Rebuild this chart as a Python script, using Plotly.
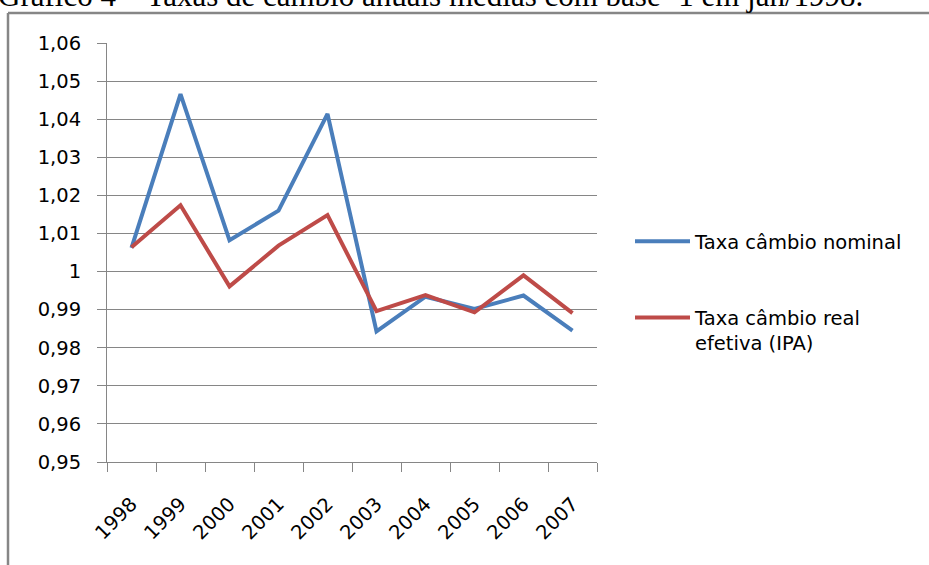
import plotly.graph_objects as go

years = ["1998", "1999", "2000", "2001", "2002", "2003", "2004", "2005", "2006", "2007"]
nominal = [1.0062, 1.0466, 1.0082, 1.0160, 1.0414, 0.9843, 0.9934, 0.9902, 0.9937, 0.9845]
real_ipa = [1.0064, 1.0174, 0.9961, 1.0068, 1.0148, 0.9896, 0.9938, 0.9893, 0.9990, 0.9891]
y_ticks = [0.95, 0.96, 0.97, 0.98, 0.99, 1.00, 1.01, 1.02, 1.03, 1.04, 1.05, 1.06]
y_ticktext = ["0,95", "0,96", "0,97", "0,98", "0,99", "1", "1,01", "1,02", "1,03", "1,04", "1,05", "1,06"]
series_names = ["Taxa câmbio nominal", "Taxa câmbio real<br>efetiva (IPA)"]
title_text = "Gráfico 4 – Taxas de câmbio anuais médias com base=1 em jan/1998."

W, H = 929, 565
L, R, T, B = 107, 332, 43, 103
pw, ph = W - L - R, H - T - B

def px_x(p):
    return (p - L) / pw

def px_y(p):
    return (H - B - p) / ph

GRID = "#868686"
FONT = "DejaVu Sans"

fig = go.Figure()
fig.add_trace(go.Scatter(x=years, y=nominal, name=series_names[0], mode="lines",
                         line=dict(color="#4A7EBB", width=4), legendgroup="a"))
fig.add_trace(go.Scatter(x=years, y=real_ipa, name=series_names[1], mode="lines",
                         line=dict(color="#BE4B48", width=4), legendgroup="b"))

fig.update_layout(
    width=W, height=H,
    margin=dict(l=L, r=R, t=T, b=B, pad=0),
    paper_bgcolor="white", plot_bgcolor="white",
    font=dict(family=FONT, size=19, color="#000000"),
    showlegend=True,
    legend=dict(x=px_x(630), y=px_y(222), xanchor="left", yanchor="top",
                font=dict(family=FONT, size=19.5, color="#000000"),
                tracegroupgap=48, valign="top", itemwidth=55,
                bgcolor="rgba(0,0,0,0)"),
    xaxis=dict(type="category", range=[-0.5, 9.5], tickson="boundaries",
               ticks="outside", ticklen=9, tickcolor=GRID, tickwidth=1,
               showline=True, linecolor=GRID, linewidth=1, showgrid=False,
               tickangle=-45, ticklabelstandoff=22, tickfont=dict(size=19.5),
               fixedrange=True),
    yaxis=dict(range=[0.95, 1.06], tickvals=y_ticks, ticktext=y_ticktext,
               showgrid=True, gridcolor=GRID, gridwidth=1,
               ticks="outside", ticklen=9, tickcolor=GRID, tickwidth=1,
               showline=True, linecolor=GRID, linewidth=1, zeroline=False,
               ticklabelstandoff=12, tickfont=dict(size=19.5)),
)

# Chart frame border (top and left edges visible)
fig.add_shape(type="line", xref="paper", yref="paper",
              x0=px_x(8), x1=px_x(935), y0=px_y(13), y1=px_y(13),
              line=dict(color=GRID, width=2.5))
fig.add_shape(type="line", xref="paper", yref="paper",
              x0=px_x(8), x1=px_x(8), y0=px_y(13), y1=px_y(570),
              line=dict(color=GRID, width=2.5))

fig.add_annotation(text=title_text, xref="paper", yref="paper",
                   x=px_x(-4), y=px_y(15), xanchor="left", yanchor="bottom",
                   showarrow=False, font=dict(family="Liberation Serif", size=31, color="#000000"))

fig.write_html("out.html")
